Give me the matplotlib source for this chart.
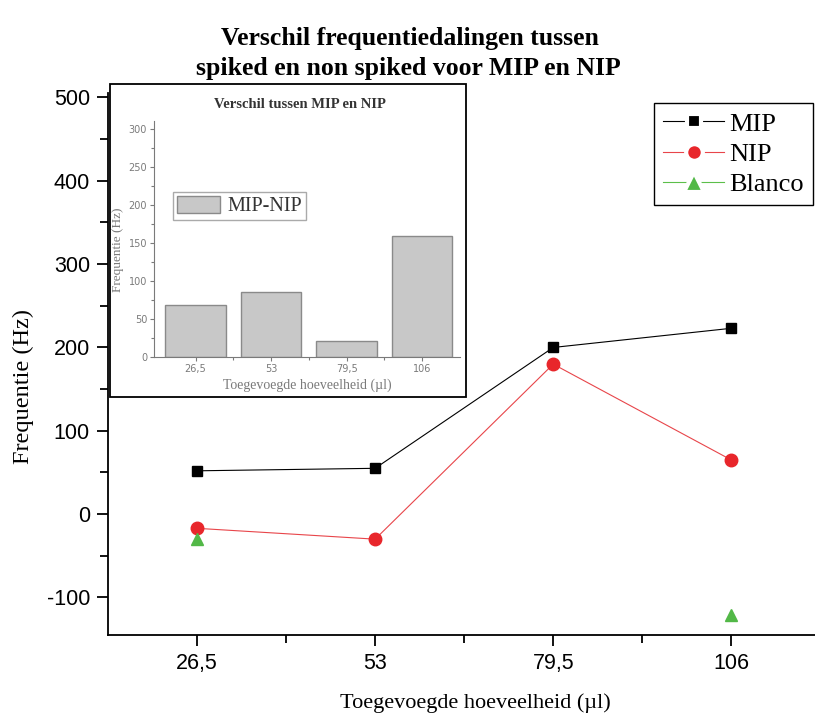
import numpy as np
import matplotlib
matplotlib.use('Agg')
import matplotlib.pyplot as plt
from matplotlib.patches import Rectangle
from matplotlib.lines import Line2D

plt.rcParams['axes.unicode_minus'] = False

# Datos
hoeveelheid = ['26,5', '53', '79,5', '106']
mip = [52, 55, 200, 223]
nip = [-17, -30, 180, 65]
blanco = [-30, np.nan, np.nan, -121]
mip_nip = [68, 86, 21, 159]

pos = np.arange(1, len(hoeveelheid) + 1)

serif = ['Liberation Serif', 'DejaVu Serif']
sans = ['Liberation Sans', 'DejaVu Sans']

zwart = 'black'
rood = '#e8262b'
groen = '#52b847'

fig = plt.figure(figsize=(8.15, 7.18), dpi=100)

# ==========================================
# Gráfico principal
# ==========================================
ax = fig.add_axes([0.1325, 0.1156, 0.8675, 0.7545])
ax.plot(pos, mip, color=zwart, lw=0.8, marker='s', ms=7)
ax.plot(pos, nip, color='#e8454a', lw=0.8, marker='o', ms=9,
        markerfacecolor=rood, markeredgecolor=rood)
ax.plot(pos, blanco, color='#5cbf4a', lw=0.8, marker='^', ms=9,
        markerfacecolor=groen, markeredgecolor=groen)

ax.set_xlim(0.5, 4.47)
ax.set_ylim(-145, 505)
ax.set_xticks(pos)
ax.set_xticklabels(hoeveelheid, fontfamily=sans, fontsize=15.5)
ax.set_xticks([1.5, 2.5, 3.5], minor=True)
ax.set_yticks(range(-100, 501, 100))
ax.set_yticks(range(-50, 501, 100), minor=True)
for lbl in ax.get_yticklabels():
    lbl.set_fontfamily(sans)
    lbl.set_fontsize(15.5)
ax.tick_params(which='major', direction='out', length=8, width=1.3, pad=5)
ax.tick_params(which='minor', direction='out', length=6, width=1.3)
ax.spines['top'].set_visible(False)
ax.spines['right'].set_visible(False)
ax.spines['left'].set_linewidth(1.3)
ax.spines['bottom'].set_linewidth(1.3)

ax.set_xlabel('Toegevoegde hoeveelheid (µl)', fontfamily=serif, fontsize=16, va='baseline')
ax.xaxis.set_label_coords(0.519, -0.1348)
ax.set_ylabel('Frequentie (Hz)', fontfamily=serif, fontsize=17.5, va='center')
ax.yaxis.set_label_coords(-0.12, 0.458)

# leyenda estilo Origin: línea cortada alrededor del marcador
handles = [
    Line2D([], [], color=zwart, lw=0.8, marker='s', ms=10, markerfacecolor=zwart,
           markeredgecolor='white', markeredgewidth=3),
    Line2D([], [], color='#e8454a', lw=0.8, marker='o', ms=12, markerfacecolor=rood,
           markeredgecolor='white', markeredgewidth=3),
    Line2D([], [], color='#5cbf4a', lw=0.8, marker='^', ms=14, markerfacecolor=groen,
           markeredgecolor='white', markeredgewidth=3),
]
leg = fig.legend(handles, ['MIP', 'NIP', 'Blanco'], loc='upper right',
                 bbox_to_anchor=(813 / 815, 1 - 103 / 718), borderaxespad=0,
                 prop={'family': serif, 'size': 19}, fancybox=False, edgecolor='black',
                 framealpha=1, handlelength=2.3, handletextpad=0.2, borderpad=0.35,
                 labelspacing=0.25)
leg.get_frame().set_linewidth(1.0)

fig.text(410 / 815, 1 - 45 / 718, 'Verschil frequentiedalingen tussen', ha='center', va='baseline',
         fontfamily=serif, fontsize=18.5, fontweight='bold')
fig.text(408 / 815, 1 - 75 / 718, 'spiked en non spiked voor MIP en NIP', ha='center', va='baseline',
         fontfamily=serif, fontsize=18.5, fontweight='bold')

# ==========================================
# Gráfico insertado: MIP - NIP
# ==========================================
fig.patches.append(Rectangle((0.135, 0.447), 0.4368, 0.436, transform=fig.transFigure,
                             facecolor='white', edgecolor='black', lw=1.3, zorder=2))

gris = '#7a7a7a'
ins = fig.add_axes([0.189, 0.5028, 0.3754, 0.328], zorder=3)
ins.bar(pos, mip_nip, width=0.8, color='#c8c8c8', edgecolor='#8a8a8a', lw=1, label='MIP-NIP')
ins.set_xlim(0.45, 4.5)
ins.set_ylim(0, 310)
ins.set_xticks(pos)
ins.set_xticklabels(hoeveelheid)
ins.set_xticks([1.5, 2.5, 3.5], minor=True)
ins.set_yticks(range(0, 301, 50))
ins.set_yticks(range(25, 301, 50), minor=True)
ins.tick_params(which='both', direction='out', colors=gris, labelsize=7, width=0.8)
ins.tick_params(which='major', length=3, pad=2)
ins.tick_params(which='minor', length=2)
ins.spines['top'].set_visible(False)
ins.spines['right'].set_visible(False)
ins.spines['left'].set_color(gris)
ins.spines['bottom'].set_color(gris)
fig.text(0.368, 1 - 105 / 718, 'Verschil tussen MIP en NIP', ha='center', va='center',
         fontfamily=serif, fontsize=10.5, fontweight='bold', color='#333333', zorder=4)
ins.set_xlabel('Toegevoegde hoeveelheid (µl)', fontfamily=serif, fontsize=10, color=gris, labelpad=3)
ins.set_ylabel('Frequentie (Hz)', fontfamily=serif, fontsize=9.5, color=gris, va='center')
ins.yaxis.set_label_coords(-0.118, 0.454)
ins_leg = ins.legend(loc='center left', bbox_to_anchor=(0.03, 0.64), prop={'family': serif, 'size': 14.5},
                     fancybox=False, edgecolor='#aaaaaa', framealpha=1, handlelength=2.1,
                     handleheight=0.9, handletextpad=0.4, borderpad=0.2)
for t in ins_leg.get_texts():
    t.set_color('#333333')

fig.savefig('out.png', dpi=100)
